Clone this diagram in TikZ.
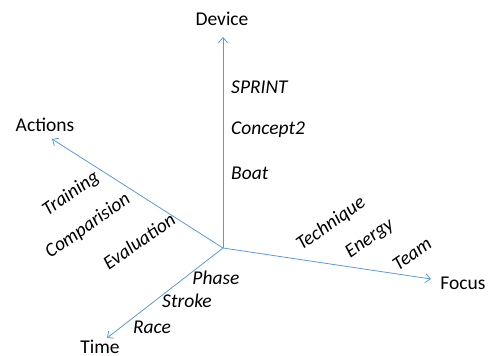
\documentclass[tikz,border=0pt]{standalone}
\usepackage{fontspec}
\setmainfont{Carlito}
\usetikzlibrary{arrows.meta}
\definecolor{axisblue}{RGB}{91,155,213}
\begin{document}
\begin{tikzpicture}[x=1pt,y=-1pt,
  axis/.style={draw=axisblue, line width=0.8pt, -{Straight Barb[length=5pt,width=9pt,line width=0.8pt]}},
  lab/.style={font=\fontsize{19.5}{23}\selectfont, inner sep=0pt},
  itl/.style={font=\fontsize{19.5}{23}\selectfont\itshape, inner sep=0pt},
  rot/.style={itl, rotate=35}]
\useasboundingbox (0,0) rectangle (491,356);
\coordinate (O) at (223,248);
\coordinate (D) at (223,37);
\coordinate (A) at (52,139);
\coordinate (F) at (431,279);
\coordinate (T) at (107,338);
\draw[axis] (O) -- (D);
\draw[axis] (O) -- (A);
\draw[axis] (O) -- (F);
\draw[axis] (O) -- (T);
\node[lab] (dev) at (222,19) {Device};
\node[lab] (act) at (45,125) {Actions};
\node[lab] (foc) at (463,283) {Focus};
\node[lab] (tim) at (100,347) {Time};
\node[itl, anchor=west] (sprint) at (231,87) {SPRINT};
\node[itl, anchor=west] (concept) at (231,130) {Concept2};
\node[itl, anchor=west] (boat) at (231,173) {Boat};
\node[itl] (phase) at (216,278) {Phase};
\node[itl] (stroke) at (187,301) {Stroke};
\node[itl] (race) at (152,327) {Race};
\node[rot] (train) at (71,194) {Training};
\node[rot] (comp) at (88,226) {Comparision};
\node[rot] (eval) at (139,241) {Evaluation};
\node[rot] (tech) at (331,224) {Technique};
\node[rot] (energy) at (370,239) {Energy};
\node[rot] (team) at (412,254) {Team};
\end{tikzpicture}
\end{document}
